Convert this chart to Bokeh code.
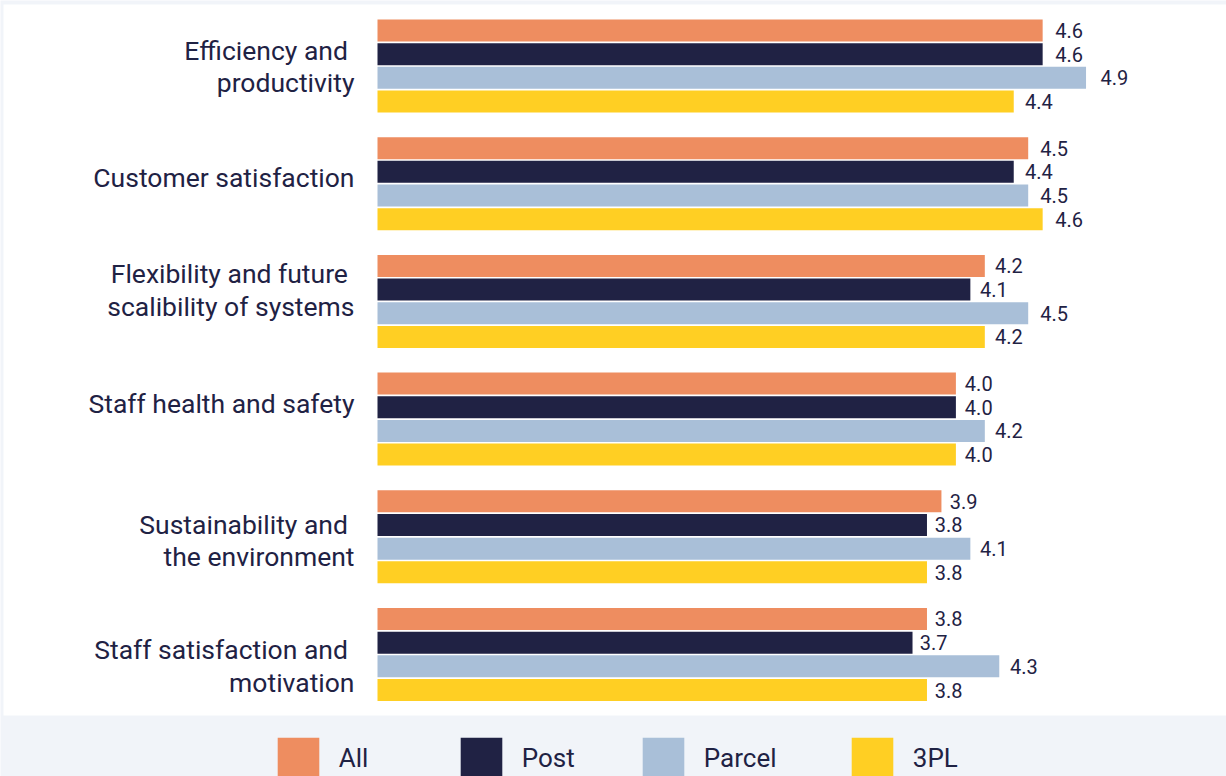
from bokeh.plotting import figure
from bokeh.models import Range1d, ColumnDataSource, Legend, LegendItem, BoxAnnotation
from bokeh.transform import dodge
from bokeh.embed import file_html
from bokeh.resources import INLINE
from bokeh.core.properties import value

# ---------------- data ----------------
categories = [
    "Efficiency and \nproductivity",
    "Customer satisfaction",
    "Flexibility and future \nscalibility of systems",
    "Staff health and safety",
    "Sustainability and \nthe environment",
    "Staff satisfaction and \nmotivation",
]
series_names = ["All", "Post", "Parcel", "3PL"]
all_vals = [4.6, 4.5, 4.2, 4.0, 3.9, 3.8]
post_vals = [4.6, 4.4, 4.1, 4.0, 3.8, 3.7]
parcel_vals = [4.9, 4.5, 4.5, 4.2, 4.1, 4.3]
tpl_vals = [4.4, 4.6, 4.2, 4.0, 3.8, 3.8]

# ---------------- style ----------------
colors = ["#EE8D60", "#202244", "#A9BFD8", "#FFCF23"]
TEXT = "#1F2244"
BG = "#F1F4F9"
FONT = "Roboto"
W, H = 1226, 776
ORIGIN_PX = 377        # screen x of value 0
PX_PER_UNIT = 144.6    # screen px per score point
G0 = 65.5              # screen y of first group centre
GROUP_PX = 117.7       # screen px between groups
bar_offsets = [-0.3017, -0.1006, 0.1006, 0.3017]   # in group units (downwards)
BAR_H = 0.187
label_dy = [0.5, -6.5, -11.5, -15.5, 3.5, 11.5]    # per-category label nudge (px)
legend_square_left = [277, 460, 642, 851]

def ypos(py):
    return (py - G0) / GROUP_PX

p = figure(
    width=W, height=H,
    x_range=Range1d(-ORIGIN_PX / PX_PER_UNIT, (W - ORIGIN_PX) / PX_PER_UNIT),
    y_range=Range1d(ypos(H), ypos(0)),
    output_backend="svg", toolbar_location=None,
    min_border=0, min_border_left=0, min_border_right=0, min_border_top=0, min_border_bottom=0,
    background_fill_color=BG, border_fill_color=BG, outline_line_color=None,
)
p.axis.visible = False
p.grid.visible = False

# white chart panel
p.add_layout(BoxAnnotation(left=(3 - ORIGIN_PX) / PX_PER_UNIT, top=ypos(4), bottom=ypos(715),
                           fill_color="white", fill_alpha=1, line_color=None, level="underlay"))

k = list(range(len(categories)))
cat_src = ColumnDataSource(dict(k=k, cat=categories, dy=label_dy, x0=[0] * len(k)))
p.text(x="x0", y="k", text="cat", x_offset=-23, y_offset="dy",
       text_font=value(FONT), text_font_size="26.5px", text_color=TEXT,
       text_align="right", text_baseline="middle", text_line_height=1.05, source=cat_src)

series = [all_vals, post_vals, parcel_vals, tpl_vals]
renderers = []
for name, vals, col, off in zip(series_names, series, colors, bar_offsets):
    src = ColumnDataSource(dict(
        k=k,
        v=vals,
        lx=[v * 1.0415 - 0.104 for v in vals],
        lbl=[f"{v:.1f}" for v in vals],
    ))
    r = p.hbar(y=dodge("k", off), left=0, right="v", height=BAR_H,
               fill_color=col, line_color=None, source=src)
    renderers.append(r)
    p.text(x="lx", y=dodge("k", off), text="lbl",
           text_font=value(FONT), text_font_size="20px", text_color=TEXT,
           text_baseline="middle", text_align="left", source=src)

for name, r, sx in zip(series_names, renderers, legend_square_left):
    leg = Legend(
        items=[LegendItem(label=name, renderers=[r])],
        location=(sx - 5.2, -8), orientation="horizontal",
        glyph_width=52, glyph_height=52, label_standoff=15,
        padding=0, margin=0, border_line_color=None, background_fill_alpha=0,
        label_text_font=FONT, label_text_font_size="26px", label_text_color=TEXT,
    )
    p.add_layout(leg)

open("out.html", "w").write(file_html(p, INLINE))
